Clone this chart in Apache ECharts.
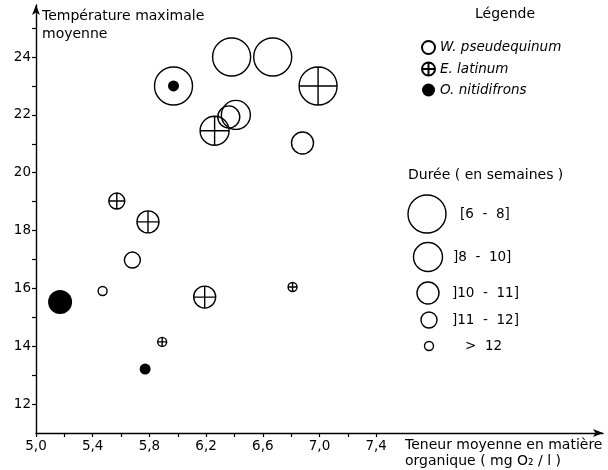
<!DOCTYPE html>
<html>
<head>
<meta charset="utf-8">
<script src="https://cdn.jsdelivr.net/npm/echarts@6/dist/echarts.min.js"></script>
<style>html,body{margin:0;padding:0;background:#fff}#c{width:608px;height:470px}</style>
</head>
<body>
<div id="c"></div>
<script>
// ---- data ----
const speciesNames = ['W. pseudequinum', 'E. latinum', 'O. nitidifrons'];
// W. pseudequinum
const wX = [6.38, 6.67, 5.97, 6.36, 6.41, 6.88, 5.68, 5.47];
const wY = [24.0, 24.0, 23.0, 21.93, 22.0, 21.03, 16.98, 15.91];
const wDur = ['6-8', '6-8', '6-8', '10-11', '8-10', '10-11', '11-12', '>12'];
// E. latinum
const eX = [6.99, 6.26, 5.57, 5.79, 6.19, 6.81, 5.89];
const eY = [23.0, 21.45, 19.02, 18.30, 15.70, 16.05, 14.15];
const eDur = ['6-8', '8-10', '11-12', '10-11', '10-11', '>12', '>12'];
// O. nitidifrons
const oX = [5.97, 5.17, 5.77];
const oY = [23.0, 15.53, 13.21];
const oDur = ['>12', '10-11', '>12'];
// duration classes and their labels
const durClasses = ['6-8', '8-10', '10-11', '11-12', '>12'];
const durLabels = ['[6  -  8]', ']8  -  10]', ']10  -  11]', ']11  -  12]', '>  12'];
// ticks
const xTickValues = [5.0, 5.2, 5.4, 5.6, 5.8, 6.0, 6.2, 6.4, 6.6, 6.8, 7.0, 7.2, 7.4];
const xLabelValues = [5.0, 5.4, 5.8, 6.2, 6.6, 7.0, 7.4];
const yTickValues = [12, 13, 14, 15, 16, 17, 18, 19, 20, 21, 22, 23, 24, 25];
const yLabelValues = [12, 14, 16, 18, 20, 22, 24];

// ---- styling ----
const FONT = 'DejaVu Sans';
const INK = '#000';
const sizeByClass = {'6-8': 38, '8-10': 29, '10-11': 22, '11-12': 16, '>12': 9};
const crossPath = 'path://M0,-10A10,10 0 1,1 0,10A10,10 0 1,1 0,-10ZM-10,0L10,0M0,-10L0,10';

function zip(xs, ys, ds) { return xs.map((x, i) => [x, ys[i], ds[i]]); }

const chart = echarts.init(document.getElementById('c'), null, {renderer: 'canvas'});

const sizeLegendPos = [[427, 214], [428, 257], [428, 293], [429, 320], [429, 346]];
const sizeLegendTextX = [460, 453, 452, 452, 465];
const graphics = [];
durClasses.forEach((c, i) => {
  graphics.push({type: 'circle', shape: {cx: sizeLegendPos[i][0], cy: sizeLegendPos[i][1], r: sizeByClass[c] / 2},
    style: {fill: 'none', stroke: INK, lineWidth: 1.4}});
  graphics.push({type: 'text', x: sizeLegendTextX[i], y: sizeLegendPos[i][1],
    style: {text: durLabels[i], font: '13.5px ' + FONT, fill: INK, verticalAlign: 'middle'}});
});
graphics.push({type: 'text', x: 42, y: 7, style: {text: 'Température maximale\nmoyenne', font: '14px ' + FONT, fill: INK, lineHeight: 18}});
graphics.push({type: 'text', x: 505, y: 14, style: {text: 'Légende', font: '14px ' + FONT, fill: INK, align: 'center', verticalAlign: 'middle'}});
graphics.push({type: 'text', x: 408, y: 175, style: {text: 'Durée ( en semaines )', font: '14px ' + FONT, fill: INK, verticalAlign: 'middle'}});
graphics.push({type: 'text', x: 405, y: 437, style: {text: 'Teneur moyenne en matière\norganique ( mg O₂ / l )', font: '14px ' + FONT, fill: INK, lineHeight: 16}});

const baseItem = {color: 'rgba(0,0,0,0)', borderColor: INK, borderWidth: 1.4, opacity: 1};

chart.setOption({
  animation: false,
  backgroundColor: '#fff',
  grid: {left: 36, right: 5, top: 5, bottom: 37, containLabel: false, outerBoundsMode: 'none'},
  xAxis: {
    type: 'value', min: 5.0, max: 9.0, interval: 0.2,
    splitLine: {show: false},
    axisLine: {lineStyle: {color: INK, width: 1.4}, symbol: ['none', 'arrow'], symbolSize: [6, 10]},
    axisTick: {customValues: xTickValues, length: 4, lineStyle: {color: INK, width: 1.2}},
    axisLabel: {customValues: xLabelValues, color: INK, fontFamily: FONT, fontSize: 13.5, margin: 6,
      formatter: v => v.toFixed(1).replace('.', ',')}
  },
  yAxis: {
    type: 'value', min: 11, max: 25.8, interval: 1,
    splitLine: {show: false},
    axisLine: {lineStyle: {color: INK, width: 1.4}, symbol: ['none', 'arrow'], symbolSize: [6, 10]},
    axisTick: {customValues: yTickValues, length: 4, lineStyle: {color: INK, width: 1.2}},
    axisLabel: {customValues: yLabelValues, color: INK, fontFamily: FONT, fontSize: 13.5, margin: 5}
  },
  legend: {
    orient: 'vertical', left: 416, top: 35, itemWidth: 13, itemHeight: 13, itemGap: 6.5,
    textStyle: {fontFamily: FONT, fontSize: 13.5, fontStyle: 'italic', color: INK},
    data: [
      {name: speciesNames[0], icon: 'circle'},
      {name: speciesNames[1], icon: crossPath},
      {name: speciesNames[2], icon: 'circle'}
    ]
  },
  graphic: graphics,
  series: [
    {name: speciesNames[0], type: 'scatter', symbol: 'circle', data: zip(wX, wY, wDur),
      symbolSize: v => sizeByClass[v[2]], itemStyle: baseItem, z: 2},
    {name: speciesNames[1], type: 'scatter', symbol: crossPath, data: zip(eX, eY, eDur),
      symbolSize: v => sizeByClass[v[2]], itemStyle: baseItem, z: 3},
    {name: speciesNames[2], type: 'scatter', symbol: 'circle', data: zip(oX, oY, oDur),
      symbolSize: v => sizeByClass[v[2]] + 2, itemStyle: {color: INK, borderColor: INK, borderWidth: 0, opacity: 1}, z: 4}
  ]
});
</script>
</body>
</html>
